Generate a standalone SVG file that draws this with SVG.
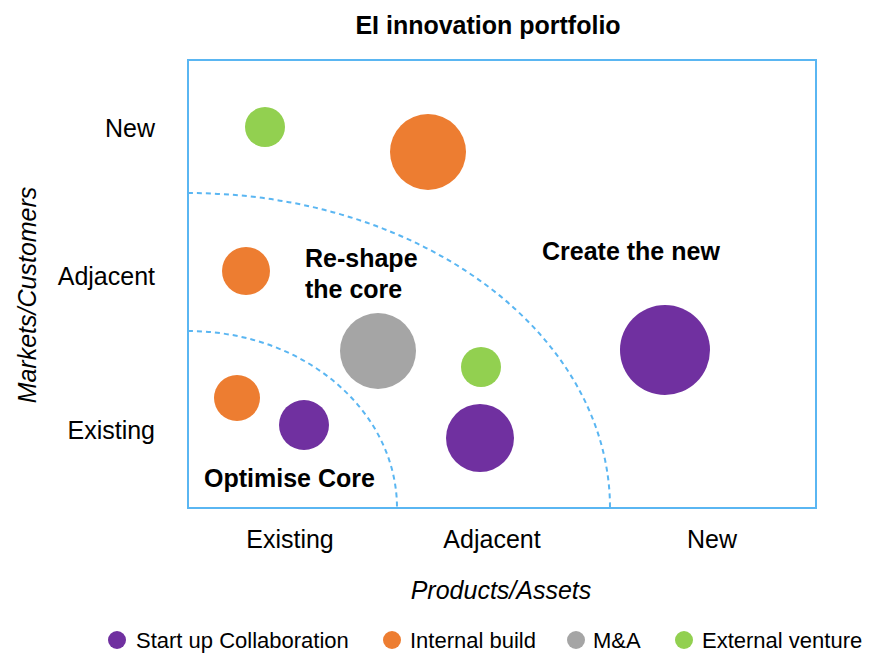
<svg xmlns="http://www.w3.org/2000/svg" width="877" height="653" viewBox="0 0 877 653">
<style>
text{font-family:"Liberation Sans",Arial,sans-serif;fill:#000}
.t{font-size:25px;font-weight:bold}
.ax{font-size:25px}
.it{font-size:25px;font-style:italic}
.rg{font-size:25px;font-weight:bold}
.lg{font-size:22px}
.frame{fill:none;stroke:#5ab6f2;stroke-width:2}
.arc{fill:none;stroke:#5ab6f2;stroke-width:2;stroke-dasharray:5 4}
.p{fill:#7030a0}.o{fill:#ed7d31}.g{fill:#a5a5a5}.gr{fill:#92d050}
</style>
<text class="t" x="488" y="34" text-anchor="middle">EI innovation portfolio</text>
<rect class="frame" x="188" y="60" width="628" height="448"/>
<g id="connectors">
<path class="arc" d="M188,193 A422,315 0 0 1 610,508"/>
<path class="arc" d="M188,331 A209,177 0 0 1 397,508"/>
</g>
<g id="axis-y">
<text class="ax" x="155" y="137" text-anchor="end">New</text>
<text class="ax" x="155" y="285" text-anchor="end">Adjacent</text>
<text class="ax" x="155" y="439" text-anchor="end">Existing</text>
<text class="it" transform="translate(36,295) rotate(-90)" text-anchor="middle">Markets/Customers</text>
</g>
<g id="axis-x">
<text class="ax" x="290" y="548" text-anchor="middle">Existing</text>
<text class="ax" x="492" y="548" text-anchor="middle">Adjacent</text>
<text class="ax" x="712" y="548" text-anchor="middle">New</text>
<text class="it" x="501" y="599" text-anchor="middle">Products/Assets</text>
</g>
<g id="regions">
<text class="rg" x="305" y="267">Re-shape</text>
<text class="rg" x="305" y="298">the core</text>
<text class="rg" x="542" y="260">Create the new</text>
<text class="rg" x="204" y="487">Optimise Core</text>
</g>
<g id="n1"><circle class="gr" cx="265" cy="127" r="20"/></g>
<g id="n2"><circle class="o" cx="428" cy="152" r="38"/></g>
<g id="n3"><circle class="o" cx="246" cy="271" r="24"/></g>
<g id="n4"><circle class="g" cx="378" cy="351" r="38"/></g>
<g id="n5"><circle class="gr" cx="481" cy="367" r="20"/></g>
<g id="n6"><circle class="p" cx="665" cy="350" r="45"/></g>
<g id="n7"><circle class="o" cx="237" cy="398" r="23"/></g>
<g id="n8"><circle class="p" cx="304" cy="425" r="25"/></g>
<g id="n9"><circle class="p" cx="480" cy="438" r="34"/></g>
<g id="legend">
<circle class="p" cx="117" cy="640" r="9"/><text class="lg" x="136" y="648">Start up Collaboration</text>
<circle class="o" cx="392" cy="640" r="9"/><text class="lg" x="410" y="648">Internal build</text>
<circle class="g" cx="576" cy="640" r="9"/><text class="lg" x="593" y="648">M&amp;A</text>
<circle class="gr" cx="684" cy="640" r="9"/><text class="lg" x="702" y="648">External venture</text>
</g>
</svg>
